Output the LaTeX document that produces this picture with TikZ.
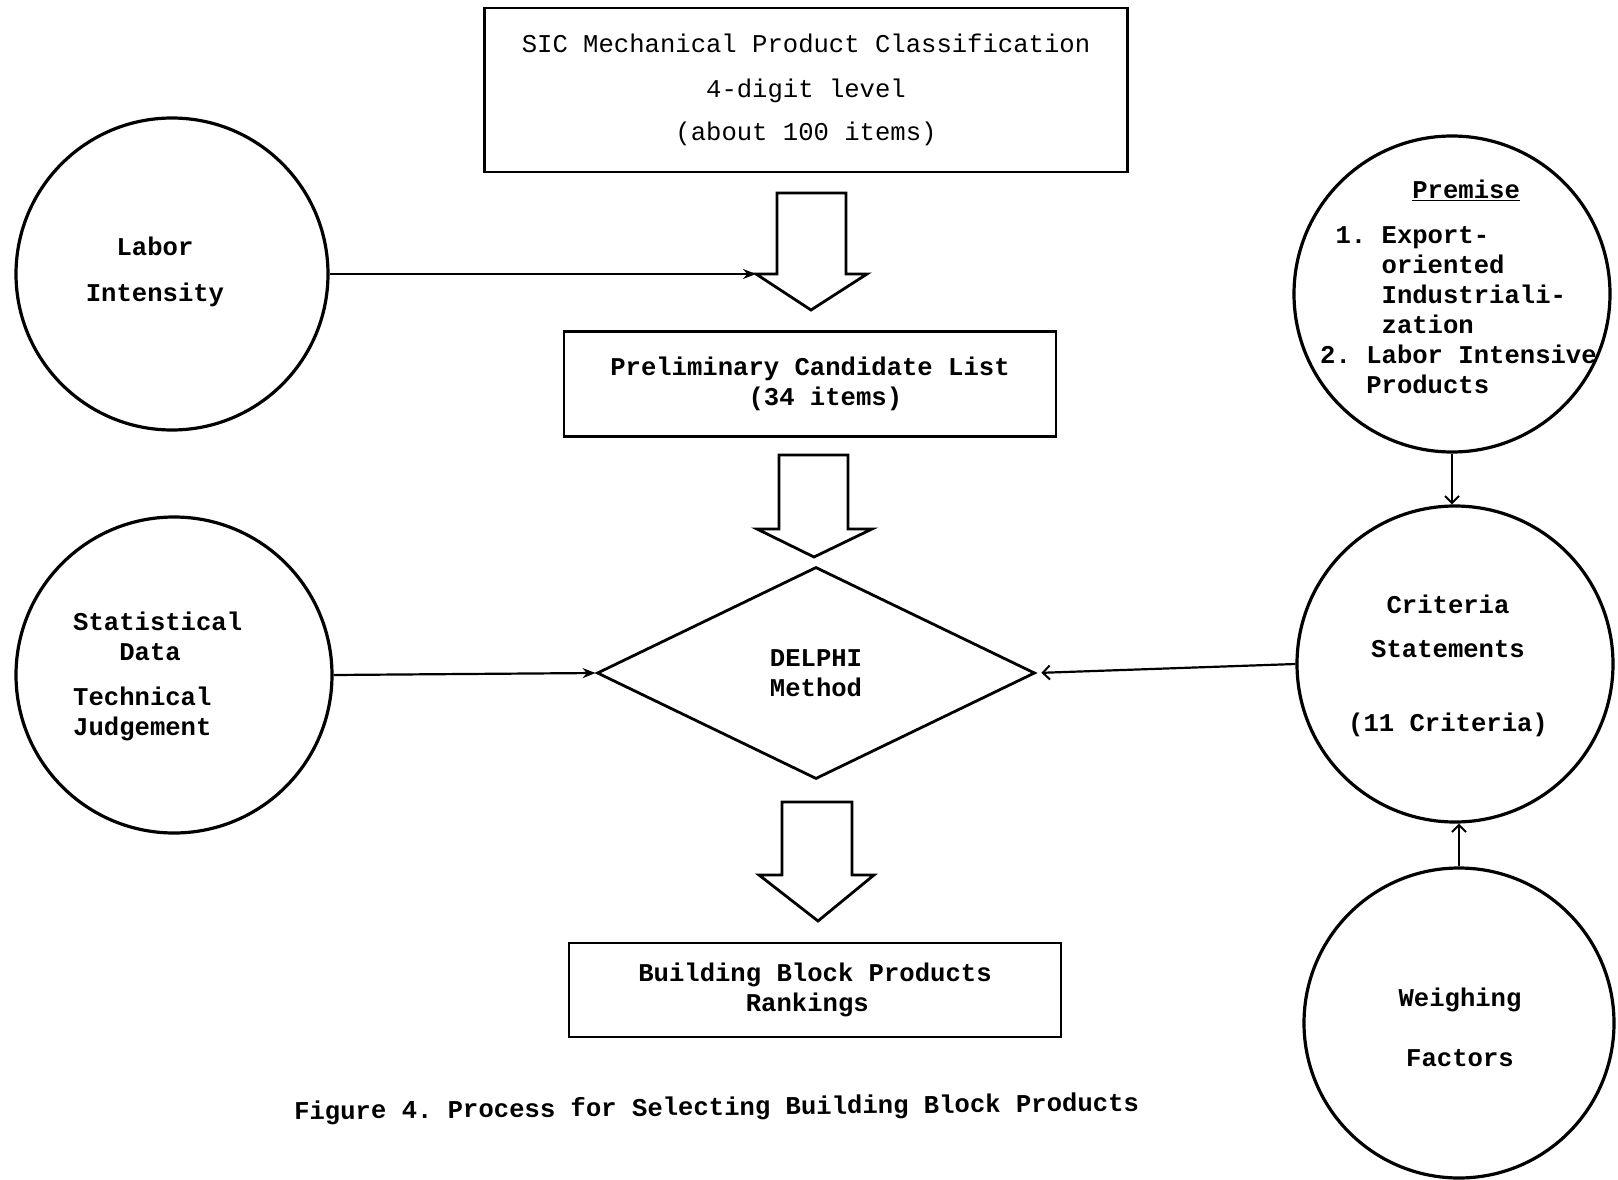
\documentclass[tikz,border=0pt]{standalone}
\usepackage{fontspec}
\newfontfamily\tw{Liberation Mono}
\usetikzlibrary{shapes.geometric,arrows.meta}
\frenchspacing
\begin{document}
\begin{tikzpicture}[x=1pt,y=-1pt,
  shp/.style={draw, line width=2.8pt},
  boxn/.style={shp, rectangle, inner sep=0pt, align=center},
  circ/.style={draw, line width=3.2pt, circle, inner sep=0pt},
  tw/.style={font=\tw\frenchspacing\fontsize{25.6pt}{30pt}\selectfont},
  twb/.style={font=\tw\bfseries\frenchspacing\fontsize{25.6pt}{30pt}\selectfont},
  conn/.style={line width=2.2pt},
  filledtip/.style={-{Stealth[length=13pt,width=10pt]}},
  opentip/.style={-{Straight Barb[length=7pt,width=14pt,line width=2pt]}},
  blockarrow/.style={shp, line join=miter, fill=white}
]
\useasboundingbox (0,0) rectangle (1618,1180);

% boxes
\node[boxn, tw, minimum width=643pt, minimum height=164pt] (sic) at (806,90)
  {SIC Mechanical Product Classification\\[15pt]4-digit level\\[13pt](about 100 items)};
\node[boxn, twb, minimum width=492pt, minimum height=105pt] (prel) at (810,384)
  {Preliminary Candidate List\\\hphantom{xx}(34 items)};
\node[shp, diamond, aspect=2, inner sep=0pt, minimum width=438pt, minimum height=212pt, twb, align=center] (delphi) at (816,673)
  {DELPHI\\Method};
\node[boxn, twb, minimum width=492pt, minimum height=94pt] (bbp) at (815,990)
  {Building Block Products\\Rankings\hphantom{x}};

% block arrows
\draw[blockarrow] (777,193) -- (846,193) -- (846,274) -- (867,274) -- (811,310) -- (756,274) -- (777,274) -- cycle;
\coordinate (a1L) at (756,274);
\draw[blockarrow] (779,455) -- (848,455) -- (848,529) -- (872,529) -- (814,557) -- (757,529) -- (779,529) -- cycle;
\draw[blockarrow] (782,802) -- (852,802) -- (852,875) -- (874,875) -- (818,921) -- (759,875) -- (782,875) -- cycle;

% circles
\node[circ, minimum size=312pt] (labor) at (172,274) {};
\node[twb, align=center, inner sep=0pt] (laborT) at (155,272) {Labor\\[16pt]Intensity};

\node[circ, minimum size=316pt] (stat) at (174,675) {};
\node[twb, align=left, inner sep=0pt, anchor=west] (statT) at (73,676)
  {Statistical\\\hspace*{1.8em}Data\\[15pt]Technical\\Judgement};

\node[circ, minimum size=316pt] (prem) at (1452,294) {};
\node[twb, align=left, inner sep=0pt, anchor=west] (premT) at (1320,287)
  {\hspace*{3.6em}\underline{Premise}\\[15pt]\hspace*{0.6em}1. Export-\\\hspace*{2.4em}oriented\\\hspace*{2.4em}Industriali-\\\hspace*{2.4em}zation\\2. Labor Intensive\\\hspace*{1.8em}Products};

\node[circ, minimum size=316pt] (crit) at (1455,664) {};
\node[twb, align=center, inner sep=0pt] (critT) at (1448,666)
  {Criteria\\[14pt]Statements\\[44pt](11 Criteria)};

\node[circ, minimum size=310pt] (weigh) at (1459,1023) {};
\node[twb, align=center, inner sep=0pt] (weighT) at (1460,1027)
  {Weighing\\[30pt]Factors};

% connectors
\draw[conn, filledtip] (labor.east) -- (a1L);
\draw[conn, filledtip] (stat.east) -- (delphi.west);
\draw[conn, opentip, shorten >=5pt] (crit.west) -- (delphi.east);
\draw[conn, opentip] (prem.south) -- (prem.south |- crit.north);
\draw[conn, opentip] (weigh.north) -- (weigh.north |- crit.south);

% caption
\node[twb, anchor=west, inner sep=0pt, rotate=0.6] (cap) at (294,1113)
  {Figure 4. Process for Selecting Building Block Products};
\end{tikzpicture}
\end{document}
